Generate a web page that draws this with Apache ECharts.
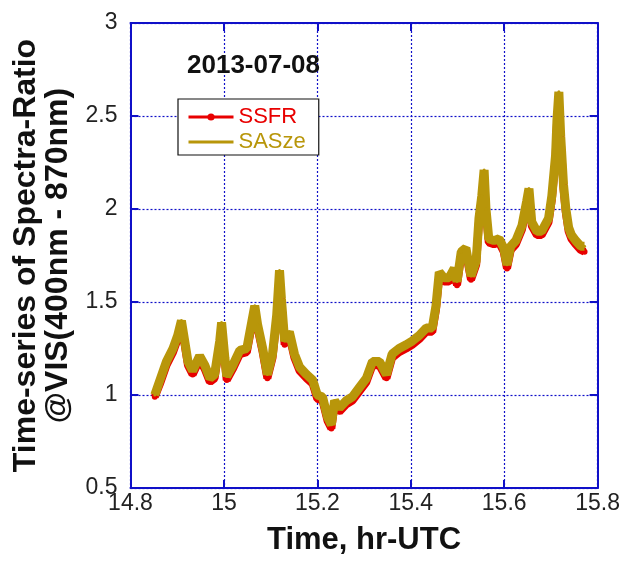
<!DOCTYPE html>
<html>
<head>
<meta charset="utf-8">
<script src="https://cdn.jsdelivr.net/npm/echarts@6/dist/echarts.min.js"></script>
<style>
html,body{margin:0;padding:0;background:#fff;}
#chart{width:623px;height:561px;}
</style>
</head>
<body>
<div id="chart"></div>
<script>
var times = [14.852,14.863,14.877,14.891,14.901,14.909,14.916,14.923,14.933,14.948,
14.959,14.970,14.980,14.991,14.995,15.002,15.006,15.019,15.034,15.049,
15.066,15.072,15.083,15.093,15.104,15.113,15.119,15.123,15.130,15.140,
15.151,15.162,15.177,15.190,15.200,15.211,15.222,15.230,15.237,15.247,
15.262,15.275,15.290,15.305,15.318,15.333,15.348,15.360,15.375,15.390,
15.403,15.418,15.433,15.446,15.454,15.461,15.471,15.482,15.493,15.499,
15.508,15.518,15.529,15.540,15.546,15.552,15.557,15.561,15.567,15.578,
15.589,15.599,15.606,15.614,15.625,15.638,15.648,15.653,15.659,15.670,
15.680,15.695,15.702,15.710,15.713,15.717,15.721,15.727,15.732,15.738,
15.744,15.753,15.764,15.772];

var sasze = [1.00,1.08,1.18,1.25,1.32,1.40,1.29,1.18,1.13,1.21,
1.16,1.09,1.11,1.29,1.39,1.20,1.10,1.16,1.24,1.25,
1.48,1.38,1.25,1.11,1.22,1.43,1.67,1.52,1.29,1.34,
1.22,1.15,1.11,1.08,1.00,0.99,0.88,0.84,0.97,0.93,
0.97,0.99,1.04,1.09,1.18,1.18,1.11,1.22,1.25,1.27,
1.29,1.32,1.36,1.36,1.48,1.66,1.63,1.63,1.68,1.61,
1.77,1.79,1.64,1.72,1.95,2.07,2.21,2.00,1.84,1.83,
1.84,1.79,1.70,1.80,1.83,1.91,2.04,2.11,1.93,1.88,
1.88,1.95,2.07,2.29,2.48,2.63,2.39,2.13,2.00,1.90,
1.86,1.83,1.80,1.80];

var ssfr = [0.99,1.06,1.16,1.23,1.30,1.38,1.27,1.16,1.11,1.19,
1.14,1.07,1.09,1.27,1.37,1.18,1.08,1.14,1.22,1.23,
1.46,1.36,1.23,1.09,1.20,1.41,1.60,1.50,1.27,1.32,
1.20,1.13,1.09,1.06,0.98,0.97,0.86,0.82,0.95,0.91,
0.95,0.97,1.02,1.07,1.16,1.16,1.09,1.20,1.23,1.25,
1.27,1.30,1.34,1.34,1.46,1.64,1.61,1.61,1.66,1.59,
1.75,1.77,1.62,1.70,1.93,2.05,2.14,1.98,1.82,1.81,
1.82,1.77,1.68,1.78,1.81,1.89,2.02,2.08,1.91,1.86,
1.86,1.93,2.05,2.27,2.46,2.53,2.37,2.11,1.98,1.88,
1.84,1.81,1.78,1.77];

var xTicks = {min: 14.8, max: 15.8, interval: 0.2};
var yTicks = {min: 0.5, max: 3, interval: 0.5};
var dateLabel = '2013-07-08';
var seriesNames = ['SSFR', 'SASze'];

function pairs(xs, ys){ return xs.map(function(x,i){ return [x, ys[i]]; }); }

var FONT = 'Liberation Sans, Arial, Helvetica, sans-serif';
var BLUE = '#1010c8';
var RED = '#e80000';
var GOLD = '#b8960a';

var chart = echarts.init(document.getElementById('chart'), null, {renderer:'canvas'});
var axisCommonX = {
  type:'value', min:xTicks.min, max:xTicks.max, interval:xTicks.interval
};
var axisCommonY = {
  type:'value', min:yTicks.min, max:yTicks.max, interval:yTicks.interval
};
chart.setOption({
  animation:false,
  backgroundColor:'#fff',
  title:{
    text:dateLabel, left:182, top:48,
    textStyle:{fontFamily:FONT, fontSize:26, fontWeight:'bold', color:'#111'}
  },
  legend:{
    orient:'vertical', left:178, top:99,
    padding:[7,13,2,9],
    itemGap:3, itemWidth:45, itemHeight:9,
    borderColor:'#111', borderWidth:1.2, backgroundColor:'#fff',
    lineStyle:{width:3},
    data:[
      {name:seriesNames[0], textStyle:{color:RED}},
      {name:seriesNames[1], textStyle:{color:GOLD}, itemStyle:{opacity:0}}
    ],
    textStyle:{fontFamily:FONT, fontSize:22}
  },
  grid:{left:130.5, right:24, top:23, bottom:70, containLabel:false},
  xAxis:[
    Object.assign({}, axisCommonX, {
      position:'bottom',
      name:'Time, hr-UTC', nameLocation:'middle', nameGap:37,
      nameTextStyle:{fontFamily:FONT, fontSize:31, fontWeight:'bold', color:'#111'},
      axisLine:{show:true, onZero:false, lineStyle:{color:BLUE, width:2}},
      axisTick:{show:true, inside:true, length:8, lineStyle:{color:BLUE, width:2}},
      axisLabel:{fontFamily:FONT, fontSize:23, color:'#222', margin:4},
      splitLine:{show:true, lineStyle:{color:BLUE, width:1.2, type:[2,2]}}
    }),
    Object.assign({}, axisCommonX, {
      position:'top',
      axisLine:{show:true, onZero:false, lineStyle:{color:BLUE, width:2}},
      axisTick:{show:true, inside:true, length:8, lineStyle:{color:BLUE, width:2}},
      axisLabel:{show:false},
      splitLine:{show:false}
    })
  ],
  yAxis:[
    Object.assign({}, axisCommonY, {
      position:'left',
      name:'Time-series of Spectra-Ratio\n@VIS(400nm - 870nm)',
      nameLocation:'middle', nameRotate:90, nameGap:52,
      nameTextStyle:{fontFamily:FONT, fontSize:32, fontWeight:'bold', color:'#111', lineHeight:32},
      axisLine:{show:true, onZero:false, lineStyle:{color:BLUE, width:2}},
      axisTick:{show:true, inside:true, length:8, lineStyle:{color:BLUE, width:2}},
      axisLabel:{fontFamily:FONT, fontSize:23, color:'#222', margin:13},
      splitLine:{show:true, lineStyle:{color:BLUE, width:1.2, type:[2,2]}}
    }),
    Object.assign({}, axisCommonY, {
      position:'right',
      axisLine:{show:true, onZero:false, lineStyle:{color:BLUE, width:2}},
      axisTick:{show:true, inside:true, length:8, lineStyle:{color:BLUE, width:2}},
      axisLabel:{show:false},
      splitLine:{show:false}
    })
  ],
  series:[
    {
      name:seriesNames[0], type:'line', xAxisIndex:0, yAxisIndex:0,
      data:pairs(times, ssfr),
      symbol:'circle', symbolSize:6, showSymbol:true,
      itemStyle:{color:RED},
      lineStyle:{color:RED, width:8},
      z:2
    },
    {
      name:seriesNames[1], type:'line', xAxisIndex:0, yAxisIndex:0,
      data:pairs(times, sasze),
      symbol:'circle', symbolSize:3, showSymbol:true,
      itemStyle:{color:GOLD},
      lineStyle:{color:GOLD, width:9},
      z:3
    }
  ]
});
</script>
</body>
</html>
